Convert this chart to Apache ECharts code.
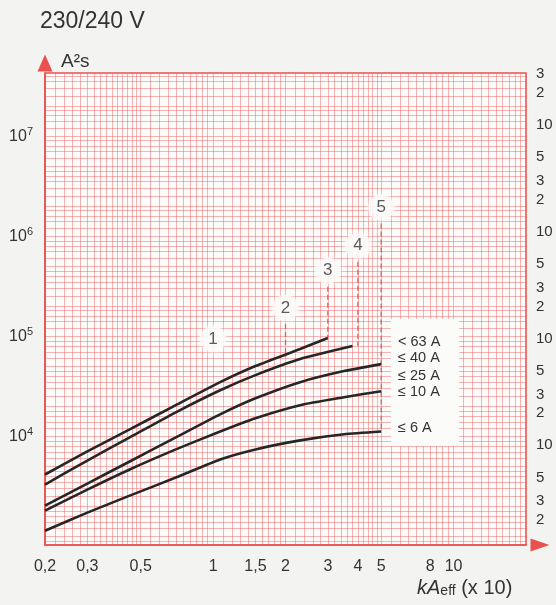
<!DOCTYPE html>
<html><head><meta charset="utf-8">
<script src="https://cdn.jsdelivr.net/npm/echarts@6/dist/echarts.min.js"></script>
<style>html,body{margin:0;padding:0;background:#f3f3f1;}#c{width:556px;height:605px;}</style>
</head><body><div id="c"></div>
<script>
// ---- data (x in kA_eff x10, y in A²s) ----
const seriesNames = ['< 63 A', '≤ 40 A', '≤ 25 A', '≤ 10 A', '≤ 6 A'];
const x63 = [0.2, 0.3, 0.45, 0.7, 1.07, 1.5, 2.3, 3.0];
const i2t63 = [4160, 7080, 11750, 20500, 34800, 50400, 74600, 96200];
const x40 = [0.2, 0.3, 0.45, 0.7, 1.07, 1.5, 2.3, 3.8];
const i2t40 = [3300, 5740, 9770, 17400, 28900, 40900, 59200, 79800];
const xLow = [0.2, 0.3, 0.45, 0.7, 1.07, 1.5, 2.3, 3.5, 5];
const i2t25 = [2030, 3380, 5610, 9770, 16600, 24000, 34800, 44900, 52700];
const i2t10 = [1810, 2940, 4670, 7410, 11200, 15200, 20500, 24600, 28300];
const i2t6 = [1140, 1730, 2560, 3880, 5880, 7410, 9120, 10500, 11200];

// numbered breaking-capacity markers
const markerLabels = ['1', '2', '3', '4', '5'];
const markerX = [1, 2, 3, 4, 5];
const markerY = [94000, 192000, 452000, 805000, 1940000];
const markerLineEnd = [null, 63000, 96000, 80000, 11200];

// tick labels
const xTickLabels = [0.2, 0.3, 0.5, 1, 1.5, 2, 3, 4, 5, 8, 10];
const yTickLabels = [1e4, 1e5, 1e6, 1e7];
const rightTickLabels = [2e3, 3e3, 5e3, 1e4, 2e4, 3e4, 5e4, 1e5, 2e5, 3e5, 5e5, 1e6, 2e6, 3e6, 5e6, 1e7, 2e7, 3e7];

// ---- grid-paper lines ----
function paper(mants, kFrom, kTo, lo, hi) {
  const out = [];
  for (let k = kFrom; k <= kTo; k++) {
    mants.forEach(m => { const v = +(m * Math.pow(10, k)).toPrecision(6); if (v >= lo && v <= hi) out.push(v); });
  }
  return out;
}
const xMant = [];
for (let m = 1; m < 2 - 1e-9; m += 0.1) xMant.push(+m.toFixed(2));
for (let m = 2; m < 5 - 1e-9; m += 0.2) xMant.push(+m.toFixed(2));
for (let m = 5; m < 10 - 1e-9; m += 0.5) xMant.push(+m.toFixed(2));
const yMant = [1, 1.2, 1.4, 1.6, 1.8, 2, 2.5, 3, 3.5, 4, 4.5, 5, 6, 7, 8, 9];
const X_MIN = 0.2, X_MAX = 20, Y_MIN = 822, Y_MAX = 4.27e7;
const xGrid = paper(xMant, -1, 1, X_MIN, X_MAX);
const yGrid = paper(yMant, 2, 7, Y_MIN, Y_MAX);

const pairs = (xs, ys) => xs.map((x, i) => [x, ys[i]]);
const FONT = 'Liberation Sans, Arial, sans-serif';
const RED = '#e9514f';
const GRIDC = 'rgba(236, 98, 98, 0.47)';

const curves = [pairs(x63, i2t63), pairs(x40, i2t40), pairs(xLow, i2t25), pairs(xLow, i2t10), pairs(xLow, i2t6)];
const series = curves.map((d, i) => ({
  name: seriesNames[i], type: 'line', data: d, smooth: 0.2, showSymbol: false, symbol: 'none',
  lineStyle: { color: '#262626', width: 2.6 }, z: 5, silent: true
}));
markerX.forEach((x, i) => {
  if (markerLineEnd[i] == null) return;
  series.push({
    type: 'line', data: [[x, markerY[i]], [x, markerLineEnd[i]]], symbol: 'none', silent: true,
    lineStyle: { color: '#e45a5a', width: 1.3, type: [5, 3] }, z: 3
  });
});
series.push({
  type: 'scatter', z: 6, silent: true,
  data: markerX.map((x, i) => ({ name: markerLabels[i], value: [x, markerY[i]] })),
  symbolSize: 26,
  itemStyle: { color: '#fafaf9', shadowBlur: 6, shadowColor: 'rgba(255,255,255,0.9)' },
  label: { show: true, position: 'inside', formatter: p => p.name, fontSize: 17, color: '#333', fontFamily: FONT }
});

const chart = echarts.init(document.getElementById('c'), null, { renderer: 'canvas' });
chart.setOption({
  backgroundColor: '#f3f3f1',
  animation: false,
  grid: { left: 45, right: 30, top: 73, bottom: 60, show: true, backgroundColor: '#fbfbfa', borderColor: RED, borderWidth: 1.5 },
  xAxis: {
    type: 'log', logBase: 10, min: X_MIN, max: X_MAX,
    axisLine: { show: true, lineStyle: { color: RED, width: 1.5 }, symbol: ['none', 'triangle'], symbolSize: [13, 19], symbolOffset: [0, 14] },
    axisTick: { show: false, customValues: xGrid },
    splitLine: { show: true, lineStyle: { color: GRIDC, width: 1 } },
    axisLabel: { customValues: xTickLabels, formatter: v => String(+v.toPrecision(3)).replace('.', ','), color: '#333', fontSize: 16, margin: 14, fontFamily: FONT }
  },
  yAxis: [{
    type: 'log', logBase: 10, min: Y_MIN, max: Y_MAX,
    axisLine: { show: true, lineStyle: { color: RED, width: 1.5 }, symbol: ['none', 'triangle'], symbolSize: [15, 17], symbolOffset: [0, 10] },
    axisTick: { show: false, customValues: yGrid },
    splitLine: { show: true, lineStyle: { color: GRIDC, width: 1 } },
    axisLabel: {
      customValues: yTickLabels, margin: 12, color: '#333', fontFamily: FONT,
      formatter: v => '{b|10}{s|' + Math.round(Math.log10(v)) + '}',
      rich: { b: { fontSize: 16, color: '#333', fontFamily: FONT }, s: { fontSize: 11, color: '#333', fontFamily: FONT, padding: [0, 0, 9, 0] } }
    }
  }, {
    type: 'log', logBase: 10, min: 1167, max: 3.06e7, position: 'right',
    axisLine: { show: false }, axisTick: { show: false }, splitLine: { show: false },
    axisLabel: {
      customValues: rightTickLabels, margin: 10, color: '#333', fontSize: 15, fontFamily: FONT,
      formatter: v => { const m = v / Math.pow(10, Math.floor(Math.log10(v) + 1e-9)); return Math.abs(m - 1) < 1e-6 ? '10' : String(Math.round(m)); }
    }
  }],
  series: series,
  graphic: [
    { type: 'text', left: 40, top: 10, style: { text: '230/240 V', fontSize: 23, fill: '#333', fontFamily: FONT } },
    { type: 'text', left: 61, top: 52, style: { text: 'A²s', fontSize: 19, fill: '#333', fontFamily: FONT } },
    { type: 'rect', shape: { x: 391, y: 319, width: 68, height: 127 }, style: { fill: '#fbfbfa' }, z: 10 },
    { type: 'text', x: 398, y: 342, z: 11, style: { text: seriesNames[0], fontSize: 14.5, fill: '#333', fontFamily: FONT, verticalAlign: 'middle' } },
    { type: 'text', x: 398, y: 358, z: 11, style: { text: seriesNames[1], fontSize: 14.5, fill: '#333', fontFamily: FONT, verticalAlign: 'middle' } },
    { type: 'text', x: 398, y: 376, z: 11, style: { text: seriesNames[2], fontSize: 14.5, fill: '#333', fontFamily: FONT, verticalAlign: 'middle' } },
    { type: 'text', x: 398, y: 392, z: 11, style: { text: seriesNames[3], fontSize: 14.5, fill: '#333', fontFamily: FONT, verticalAlign: 'middle' } },
    { type: 'text', x: 398, y: 428, z: 11, style: { text: seriesNames[4], fontSize: 14.5, fill: '#333', fontFamily: FONT, verticalAlign: 'middle' } },
    { type: 'text', x: 417, y: 588, z: 11, style: {
        text: '{i|kA}{sub|eff}{n| (x 10)}', verticalAlign: 'middle', fontFamily: FONT,
        rich: { i: { fontSize: 20, fontStyle: 'italic', fill: '#333', fontFamily: FONT }, sub: { fontSize: 14, fill: '#333', fontFamily: FONT, padding: [7, 0, 0, 0] }, n: { fontSize: 20, fill: '#333', fontFamily: FONT } } } }
  ]
});
</script></body></html>
